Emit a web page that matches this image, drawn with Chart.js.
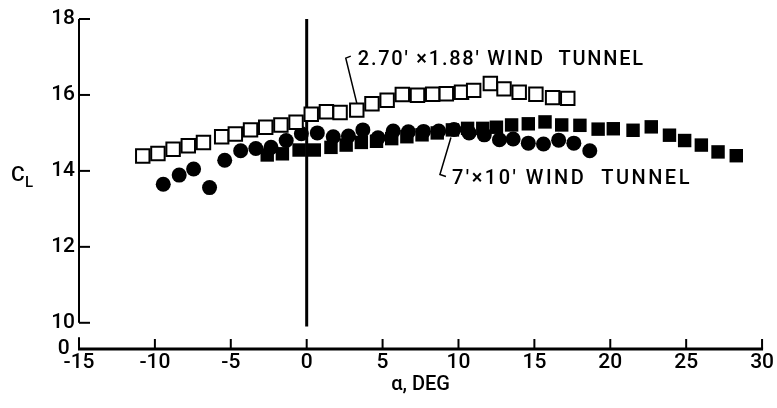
<!DOCTYPE html>
<html>
<head>
<meta charset="utf-8">
<script src="https://cdn.jsdelivr.net/npm/chart.js@4.4.0/dist/chart.umd.min.js"></script>
<style>
  html, body { margin: 0; padding: 0; background: #fff; }
  #wrap { width: 777px; height: 408px; }
</style>
</head>
<body>
<div id="wrap"><canvas id="liftChart"></canvas></div>
<script>
// axis set-up
const xMin = -15;
const xMax = 30;
const xStep = 5;
const yTicks = [10, 12, 14, 16, 18];
const yBreak = 9.31; // bottom of the broken axis, labelled "0"

// 2.70' x 1.88' wind tunnel (open squares)
const alphaSmall = [-10.8, -9.8, -8.8, -7.8, -6.8, -5.6, -4.7, -3.7, -2.7, -1.7, -0.7, 0.3, 1.3, 2.2, 3.3,
  4.3, 5.3, 6.3, 7.3, 8.3, 9.2, 10.2, 11.0, 12.1, 13.0, 14.0, 15.1, 16.2, 17.2];
const clSmall = [14.39, 14.46, 14.57, 14.66, 14.75, 14.90, 14.97, 15.08, 15.15, 15.21, 15.28, 15.49, 15.56, 15.54, 15.60,
  15.77, 15.86, 16.01, 15.99, 16.02, 16.03, 16.07, 16.12, 16.30, 16.16, 16.07, 16.02, 15.93, 15.91];

// 7' x 10' wind tunnel (filled circles)
const alphaCircle = [-9.45, -8.4, -7.45, -6.4, -5.4, -4.35, -3.35, -2.35, -1.35, -0.35, 0.7, 1.75, 2.75, 3.7, 4.7,
  5.7, 6.7, 7.7, 8.7, 9.7, 10.7, 11.7, 12.7, 13.6, 14.6, 15.6, 16.6, 17.6, 18.65];
const clCircle = [13.65, 13.89, 14.05, 13.56, 14.28, 14.53, 14.59, 14.62, 14.80, 14.98, 15.00, 14.90, 14.92, 15.08, 14.87,
  15.05, 15.03, 15.04, 15.05, 15.09, 15.00, 14.95, 14.82, 14.84, 14.73, 14.71, 14.81, 14.73, 14.53];

// 7' x 10' wind tunnel (filled squares)
const alphaSquare = [-2.6, -1.6, -0.5, 0.5, 1.6, 2.6, 3.6, 4.6, 5.6, 6.6, 7.6, 8.6, 9.6, 10.6, 11.6,
  12.5, 13.5, 14.6, 15.7, 16.8, 18.0, 19.2, 20.2, 21.5, 22.7, 23.9, 24.9, 26.0, 27.1, 28.3];
const clSquare = [14.42, 14.45, 14.55, 14.55, 14.62, 14.68, 14.75, 14.78, 14.85, 14.90, 14.95, 15.00, 15.08, 15.12, 15.12,
  15.15, 15.21, 15.24, 15.29, 15.21, 15.20, 15.10, 15.11, 15.07, 15.16, 14.94, 14.80, 14.68, 14.50, 14.40];

const FONT = "Roboto, 'Liberation Sans', Arial, sans-serif";
const WEIGHT = 500;

function toPoints(xs, ys) {
  return xs.map((v, i) => ({ x: v, y: ys[i] }));
}

function line(ctx, x1, y1, x2, y2) {
  ctx.beginPath();
  ctx.moveTo(x1, y1);
  ctx.lineTo(x2, y2);
  ctx.stroke();
}

// text stretched to a given width, as on the hand-lettered original
function fitText(ctx, text, left, midY, width) {
  ctx.letterSpacing = '0px';
  const natural = ctx.measureText(text).width;
  ctx.letterSpacing = ((width - natural) / text.length) + 'px';
  ctx.fillText(text, left, midY);
  ctx.letterSpacing = '0px';
}

const paperAxes = {
  id: 'paperAxes',
  beforeDatasetsDraw(chart) {
    const { ctx, scales: { x, y } } = chart;
    ctx.save();
    ctx.strokeStyle = '#000';
    ctx.lineWidth = 3;
    const x0 = x.getPixelForValue(0);
    line(ctx, x0, y.getPixelForValue(18), x0, y.getPixelForValue(9.9));
    ctx.restore();
  },
  afterDatasetsDraw(chart) {
    const { ctx, scales: { x, y } } = chart;
    const left = x.getPixelForValue(xMin);
    const right = x.getPixelForValue(xMax);
    const bottom = y.getPixelForValue(yBreak);
    ctx.save();
    ctx.strokeStyle = '#000';
    ctx.fillStyle = '#000';

    // broken y axis
    ctx.lineWidth = 2;
    line(ctx, left, y.getPixelForValue(18), left, y.getPixelForValue(10));
    line(ctx, left, y.getPixelForValue(9.62), left, bottom);
    yTicks.forEach(v => {
      const py = y.getPixelForValue(v);
      line(ctx, left, py, left + 11, py);
    });

    // x axis with inward ticks
    ctx.lineWidth = 3;
    line(ctx, left - 1, bottom, right + 1, bottom);
    ctx.lineWidth = 2;
    x.ticks.forEach(t => {
      const px = x.getPixelForValue(t.value);
      line(ctx, px, bottom, px, bottom - 10);
    });

    // C_L axis label
    ctx.textBaseline = 'alphabetic';
    ctx.textAlign = 'left';
    ctx.font = WEIGHT + ' 21px ' + FONT;
    ctx.fillText('C', 11, 181);
    ctx.font = WEIGHT + ' 15px ' + FONT;
    ctx.fillText('L', 25, 187);

    // annotations with leader lines
    ctx.font = WEIGHT + ' 20px ' + FONT;
    ctx.textBaseline = 'middle';
    ctx.lineWidth = 1.5;

    const pa = { x: x.getPixelForValue(alphaSmall[14]), y: y.getPixelForValue(clSmall[14]) };
    ctx.beginPath();
    ctx.moveTo(pa.x, pa.y - 7);
    ctx.lineTo(pa.x - 11, pa.y - 52);
    ctx.lineTo(pa.x - 6, pa.y - 54);
    ctx.stroke();
    fitText(ctx, "2.70' \u00d71.88' WIND  TUNNEL", pa.x + 1, pa.y - 50, 287);

    const pb = { x: x.getPixelForValue(alphaCircle[19]), y: y.getPixelForValue(clCircle[19]) };
    ctx.beginPath();
    ctx.moveTo(pb.x - 3, pb.y + 8);
    ctx.lineTo(pb.x - 14, pb.y + 45);
    ctx.lineTo(pb.x - 8, pb.y + 47);
    ctx.stroke();
    fitText(ctx, "7'\u00d710' WIND  TUNNEL", pb.x - 2, pb.y + 49, 240);

    ctx.restore();
  }
};

new Chart(document.getElementById('liftChart'), {
  type: 'scatter',
  data: {
    datasets: [
      {
        label: "2.70' x 1.88' wind tunnel",
        data: toPoints(alphaSmall, clSmall),
        pointStyle: 'rect',
        pointRadius: 9.5,
        backgroundColor: '#fff',
        borderColor: '#000',
        borderWidth: 2,
      },
      {
        label: "7' x 10' wind tunnel",
        data: toPoints(alphaCircle, clCircle),
        pointStyle: 'circle',
        pointRadius: 7.5,
        backgroundColor: '#000',
        borderColor: '#000',
        borderWidth: 0,
      },
      {
        label: "7' x 10' wind tunnel",
        data: toPoints(alphaSquare, clSquare),
        pointStyle: 'rect',
        pointRadius: 9.5,
        backgroundColor: '#000',
        borderColor: '#000',
        borderWidth: 0,
      },
    ],
  },
  options: {
    responsive: true,
    maintainAspectRatio: false,
    devicePixelRatio: 1,
    animation: false,
    layout: { padding: { top: 19, right: 14, bottom: 0, left: 0 } },
    plugins: {
      legend: { display: false },
      tooltip: { enabled: false },
    },
    scales: {
      x: {
        type: 'linear',
        min: xMin,
        max: xMax,
        grid: { display: false, drawTicks: false },
        border: { display: false },
        ticks: {
          stepSize: xStep,
          padding: 3,
          color: '#000',
          font: { family: FONT, size: 21, weight: WEIGHT, lineHeight: 1 },
          maxRotation: 0,
        },
        title: {
          display: true,
          text: '\u03b1, DEG',
          color: '#000',
          font: { family: FONT, size: 20, weight: WEIGHT, lineHeight: 1 },
          padding: { top: 0, bottom: 13 },
        },
        afterFit(scale) { scale.height = 59; },
      },
      y: {
        type: 'linear',
        min: yBreak,
        max: 18,
        grid: { display: false, drawTicks: false },
        border: { display: false },
        afterBuildTicks(scale) {
          scale.ticks = [yBreak].concat(yTicks).map(v => ({ value: v }));
        },
        ticks: {
          padding: 4,
          color: '#000',
          font: { family: FONT, size: 21, weight: WEIGHT, lineHeight: 1 },
          callback: v => (v === yBreak ? '0 ' : String(v)),
        },
        afterFit(scale) { scale.width = 79; },
      },
    },
  },
  plugins: [paperAxes],
});
</script>
</body>
</html>
